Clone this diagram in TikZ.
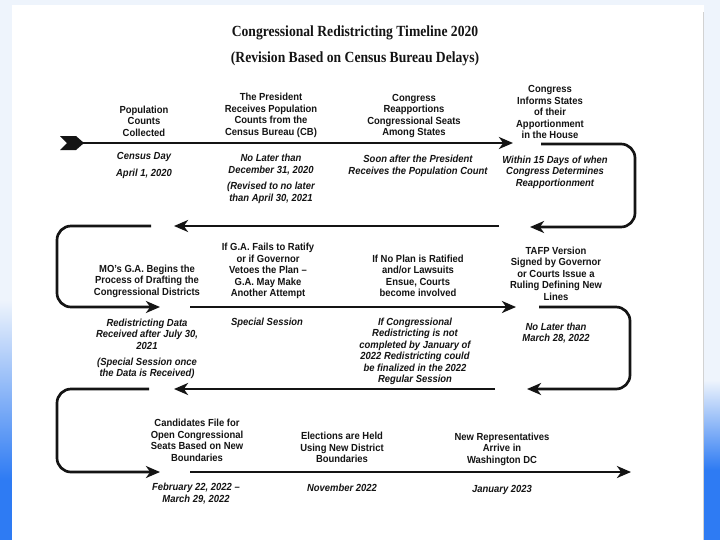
\documentclass[tikz,border=0pt]{standalone}
\usepackage{fontspec}
\setmainfont{Liberation Sans}[FakeStretch=0.92]
\newfontfamily\titlefont{Liberation Serif}[FakeStretch=0.88]
\usetikzlibrary{arrows.meta}
\definecolor{inkblack}{HTML}{141414}
\definecolor{slidebg}{HTML}{EEF4FC}
\definecolor{slideblue}{HTML}{2E7BF3}
\newcommand{\txtsize}{\fontsize{7.3}{8.2}\selectfont}
\newcommand{\ttlsize}{\fontsize{11}{13}\selectfont}

\begin{document}
\begin{tikzpicture}[x=0.025cm, y=-0.025cm,
  evt/.style={font=\txtsize\bfseries, align=center, text=inkblack, inner sep=0pt},
  when/.style={font=\txtsize\bfseries\itshape, align=center, text=inkblack, inner sep=0pt},
  ttl/.style={font=\titlefont\ttlsize\bfseries, text=inkblack, inner sep=0pt},
  tl/.style={line width=1.9pt, draw=inkblack, -{Stealth[length=10pt,width=8.5pt,inset=3pt]}},
  uturn/.style={tl, rounded corners=0.35cm}]
\useasboundingbox (0,0) rectangle (720,540);

% slide behind the scanned page
\fill[slidebg] (0,0) rectangle (720,540);
\shade[top color=slidebg, bottom color=slideblue] (0,300) rectangle (12,480);
\fill[slideblue] (0,480) rectangle (12,540);
\shade[top color=slidebg, bottom color=slideblue] (704,380) rectangle (720,470);
\fill[slideblue] (704,470) rectangle (720,540);
\fill[white] (12,5) rectangle (704,540);
\draw[gray!35, line width=0.6pt] (703,12) -- (703,540);

\node[ttl] (title) at (355,33) {Congressional Redistricting Timeline 2020};
\node[ttl] (subtitle) at (355,59) {(Revision Based on Census Bureau Delays)};

% first row
\node[evt] (popcount) at (144,121) {Population\\Counts\\Collected};
\node[evt] (presrecv) at (271,115.5) {The President\\Receives Population\\Counts from the\\Census Bureau (CB)};
\node[evt] (reapp) at (414,116) {Congress\\Reapportions\\Congressional Seats\\Among States};
\node[evt] (inform) at (550,112) {Congress\\Informs States\\of their\\Apportionment\\in the House};
\node[when] (censusday) at (144,157) {Census Day};
\node[when] (censusdate) at (144,174) {April 1, 2020};
\node[when] (presdate) at (271,164.5) {No Later than\\December 31, 2020};
\node[when] (presrev) at (271,193) {(Revised to no later\\than April 30, 2021};
\node[when] (reappdate) at (418,166) {Soon after the President\\Receives the Population Count};
\node[when] (informdate) at (555,172) {Within 15 Days of when\\Congress Determines\\Reapportionment};

% second row
\node[evt] (drafting) at (147,281) {MO's G.A. Begins the\\Process of Drafting the\\Congressional Districts};
\node[evt] (retry) at (268,271) {If G.A. Fails to Ratify\\or if Governor\\Vetoes the Plan --\\G.A. May Make\\Another Attempt};
\node[evt] (courts) at (418,276) {If No Plan is Ratified\\and/or Lawsuits\\Ensue, Courts\\become involved};
\node[evt] (tafp) at (556,273.5) {TAFP Version\\Signed by Governor\\or Courts Issue a\\Ruling Defining New\\Lines};
\node[when] (datadate) at (147,334) {Redistricting Data\\Received after July 30,\\2021};
\node[when] (datanote) at (147,368.5) {(Special Session once\\the Data is Received)};
\node[when] (specsess) at (267,323) {Special Session};
\node[when] (courtsnote) at (415,351.5) {If Congressional\\Redistricting is not\\completed by January of\\2022 Redistricting could\\be finalized in the 2022\\Regular Session};
\node[when] (tafpdate) at (556,333) {No Later than\\March 28, 2022};

% third row
\node[evt] (filing) at (197,440.5) {Candidates File for\\Open Congressional\\Seats Based on New\\Boundaries};
\node[evt] (election) at (342,447.5) {Elections are Held\\Using New District\\Boundaries};
\node[evt] (arrive) at (502,449) {New Representatives\\Arrive in\\Washington DC};
\node[when] (filingdate) at (196,493.5) {February 22, 2022 --\\March 29, 2022};
\node[when] (electdate) at (342,488) {November 2022};
\node[when] (arrivedate) at (502,490) {January 2023};

% timeline ends
\coordinate (r1s) at (80,143);  \coordinate (r1e) at (513,143);
\coordinate (a1) at (541,144);  \coordinate (a2) at (530,227);
\coordinate (r2s) at (499,226); \coordinate (r2e) at (174,226);
\coordinate (b1) at (151,226);  \coordinate (b2) at (160,307);
\coordinate (r3s) at (190,307); \coordinate (r3e) at (516,307);
\coordinate (c1) at (539,307);  \coordinate (c2) at (527,389);
\coordinate (r4s) at (495,389); \coordinate (r4e) at (174,389);
\coordinate (d1) at (149,389);  \coordinate (d2) at (160,472);
\coordinate (r5s) at (190,472); \coordinate (r5e) at (631,472);

\fill[inkblack] (60,136) -- (76,136) -- (84,143) -- (76,150) -- (60,150) -- (67,143) -- cycle;
\draw[tl] (r1s) -- (r1e);
\draw[uturn] (a1) -| ++(94,83) -- (a2);
\draw[tl] (r2s) -- (r2e);
\draw[uturn] (b1) -| ++(-94,81) -- (b2);
\draw[tl] (r3s) -- (r3e);
\draw[uturn] (c1) -| ++(91,82) -- (c2);
\draw[tl] (r4s) -- (r4e);
\draw[uturn] (d1) -| ++(-92,83) -- (d2);
\draw[tl] (r5s) -- (r5e);
\end{tikzpicture}
\end{document}
